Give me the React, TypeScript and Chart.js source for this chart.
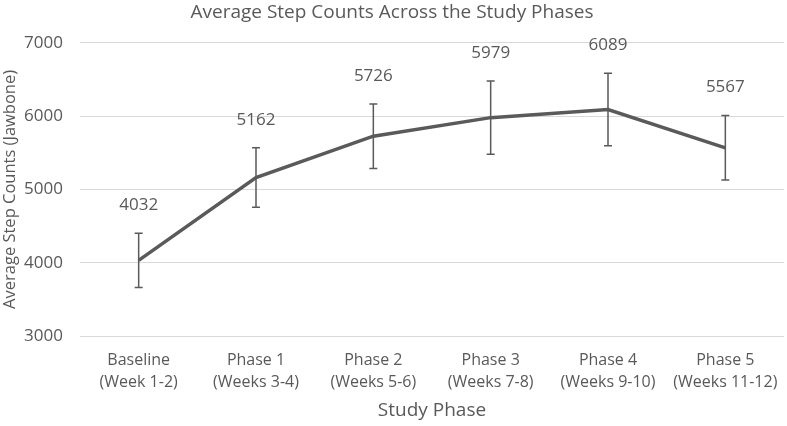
import React, { useEffect, useRef } from "react";
import { Chart, registerables } from "chart.js";

Chart.register(...registerables);

const categories: string[][] = [
  ["Baseline", "(Week 1-2)"],
  ["Phase 1", "(Weeks 3-4)"],
  ["Phase 2", "(Weeks 5-6)"],
  ["Phase 3", "(Weeks 7-8)"],
  ["Phase 4", "(Weeks 9-10)"],
  ["Phase 5", "(Weeks 11-12)"],
];
const meanSteps: number[] = [4032, 5162, 5726, 5979, 6089, 5567];
const errorSteps: number[] = [370, 405, 440, 500, 495, 440];

const TEXT = "#595959";
const LINE = "#5a5a5a";
const FONT = "'Open Sans', 'Noto Sans', sans-serif";

const errorBarPlugin = {
  id: "errorBars",
  afterDatasetsDraw(chart: any) {
    const { ctx, scales } = chart;
    const xs = scales.x;
    const ys = scales.y;
    ctx.save();
    ctx.strokeStyle = LINE;
    ctx.lineWidth = 1.5;
    meanSteps.forEach((m, i) => {
      const x = xs.getPixelForValue(i);
      const yt = ys.getPixelForValue(m + errorSteps[i]);
      const yb = ys.getPixelForValue(m - errorSteps[i]);
      ctx.beginPath();
      ctx.moveTo(x, yt);
      ctx.lineTo(x, yb);
      ctx.moveTo(x - 4, yt);
      ctx.lineTo(x + 4, yt);
      ctx.moveTo(x - 4, yb);
      ctx.lineTo(x + 4, yb);
      ctx.stroke();
    });
    ctx.fillStyle = TEXT;
    ctx.font = `17px ${FONT}`;
    ctx.textAlign = "center";
    ctx.textBaseline = "middle";
    meanSteps.forEach((m, i) => {
      const x = xs.getPixelForValue(i);
      const yt = ys.getPixelForValue(m + errorSteps[i]);
      ctx.fillText(String(m), x, yt - 28);
    });
    ctx.restore();
  },
};

export default function App() {
  const ref = useRef<HTMLCanvasElement | null>(null);
  useEffect(() => {
    document.body.style.margin = "0";
    const chart = new Chart(ref.current as HTMLCanvasElement, {
      type: "line",
      data: {
        labels: categories,
        datasets: [
          {
            data: meanSteps,
            borderColor: LINE,
            borderWidth: 3.5,
            pointRadius: 0,
            tension: 0,
            fill: false,
          },
        ],
      },
      options: {
        animation: false,
        responsive: false,
        maintainAspectRatio: false,
        layout: { padding: { top: 0, right: 3, bottom: 0, left: 0 } },
        plugins: {
          legend: { display: false },
          tooltip: { enabled: false },
          title: {
            display: true,
            text: "Average Step Counts Across the Study Phases",
            color: TEXT,
            font: { family: FONT, size: 19, weight: "normal" },
            padding: { top: 1, bottom: 19 },
          },
        },
        scales: {
          x: {
            offset: true,
            grid: { display: false },
            border: { display: false },
            ticks: {
              color: TEXT,
              font: { family: FONT, size: 16, lineHeight: 1.35 },
              padding: 6,
              maxRotation: 0,
              autoSkip: false,
            },
            title: {
              display: true,
              text: "Study Phase",
              color: TEXT,
              font: { family: FONT, size: 19 },
              padding: { top: 2, bottom: 4 },
            },
            afterFit(scale: any) {
              scale.height = 90;
            },
          },
          y: {
            min: 3000,
            max: 7000,
            grid: { color: "#d9d9d9", lineWidth: 1, drawTicks: false },
            border: { display: false },
            ticks: {
              stepSize: 1000,
              color: TEXT,
              font: { family: FONT, size: 17 },
              padding: 17,
              callback: (v: any) => String(v),
            },
            title: {
              display: true,
              text: "Average Step Counts (Jawbone)",
              color: TEXT,
              font: { family: FONT, size: 16.5 },
              padding: { top: 0, bottom: 0 },
            },
            afterFit(scale: any) {
              scale.width = 80;
            },
          },
        },
      },
      plugins: [errorBarPlugin],
    });
    return () => chart.destroy();
  }, []);
  return (
    <div style={{ position: "absolute", left: 0, top: 0, width: 787, height: 426, background: "#fff" }}>
      <canvas ref={ref} width={787} height={426} style={{ width: 787, height: 426 }} />
    </div>
  );
}
